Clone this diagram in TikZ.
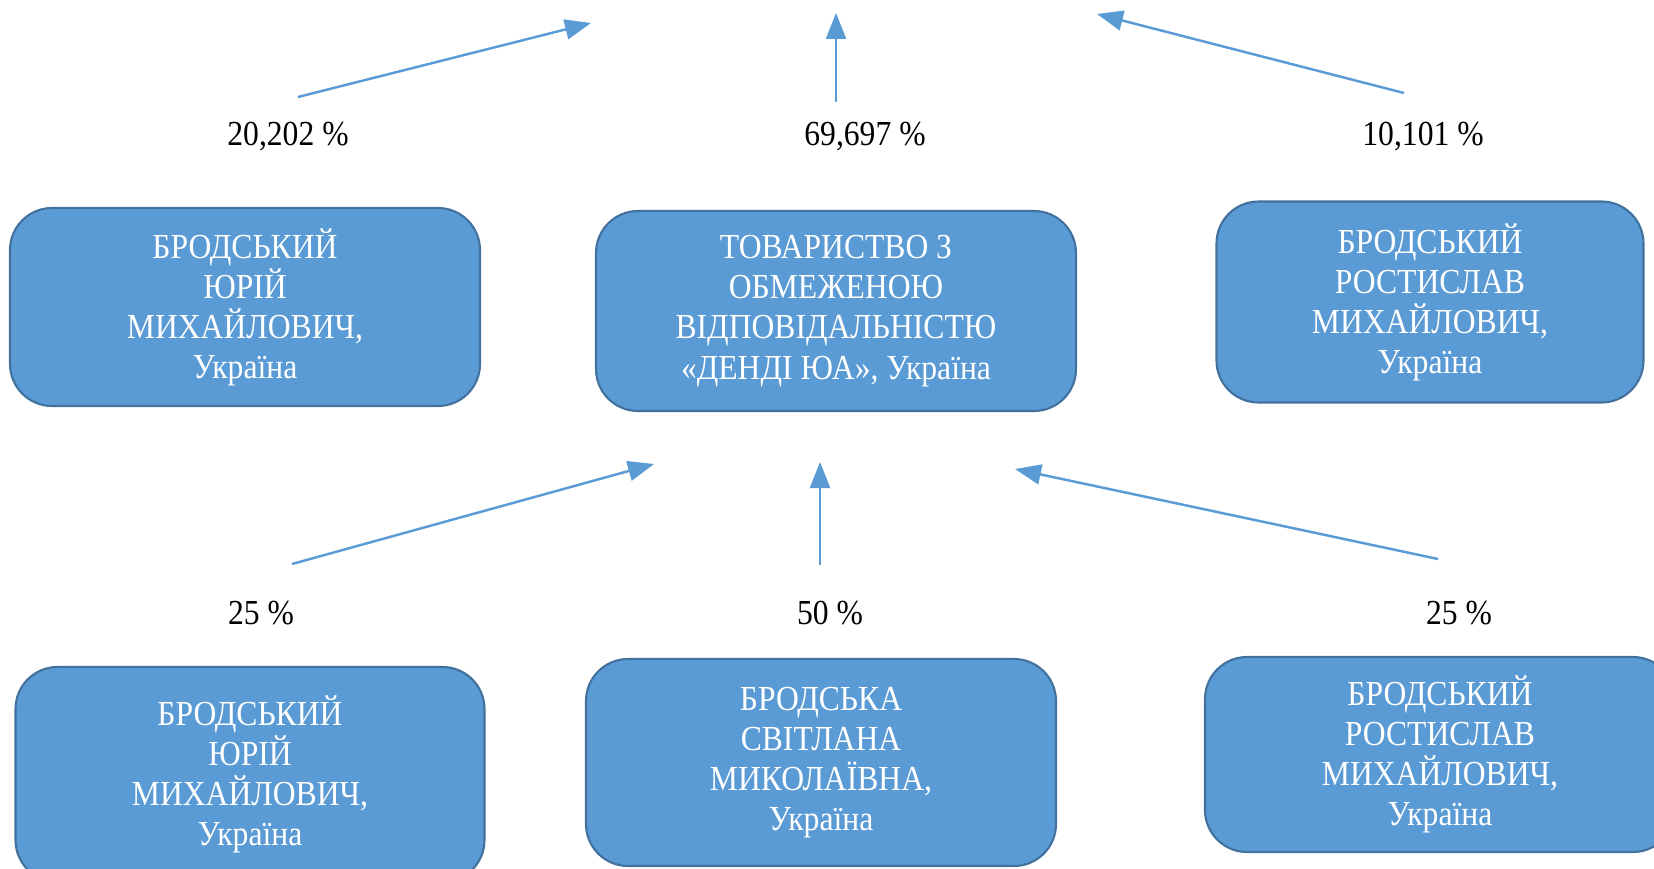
\documentclass[tikz,border=0pt]{standalone}
\usepackage{fontspec}
\setmainfont{Liberation Serif}[FakeStretch=0.9]
\usetikzlibrary{arrows.meta}

\definecolor{boxblue}{HTML}{5B9BD5}
\definecolor{boxedge}{HTML}{41719C}

\tikzset{every node/.style={font=\fontsize{10}{11.4}\selectfont}}
\tikzstyle{owner}=[draw=boxedge, line width=0.6pt, fill=boxblue, rounded corners=0.42cm,
    text=white, align=center, inner sep=0pt]
\tikzstyle{share}=[draw=boxblue, line width=0.7pt, -{Triangle[length=2.6mm,width=2mm]}]

\begin{document}
\begin{tikzpicture}
            \useasboundingbox (0,0) rectangle (16.54,8.68);
            % upper level
            \node [owner, minimum width=4.70cm, minimum height=1.98cm] (yurii) at (2.45,5.61)
                {БРОДСЬКИЙ\\ЮРІЙ\\МИХАЙЛОВИЧ,\\Україна};
            \node [owner, minimum width=4.80cm, minimum height=2.00cm] (dendi) at (8.36,5.57)
                {ТОВАРИСТВО З\\ОБМЕЖЕНОЮ\\ВІДПОВІДАЛЬНІСТЮ\\«ДЕНДІ ЮА», Україна};
            \node [owner, minimum width=4.27cm, minimum height=2.01cm] (rostyslav) at (14.30,5.66)
                {БРОДСЬКИЙ\\РОСТИСЛАВ\\МИХАЙЛОВИЧ,\\Україна};
            \node (pyurii) at (2.88,7.31) {20,202 \%};
            \node (pdendi) at (8.65,7.31) {69,697 \%};
            \node (prostyslav) at (14.23,7.31) {10,101 \%};
            \coordinate (yfrom) at (2.98,7.71);
            \coordinate (yto) at (5.91,8.45);
            \coordinate (dfrom) at (8.36,7.66);
            \coordinate (dto) at (8.36,8.55);
            \coordinate (rfrom) at (14.04,7.75);
            \coordinate (rto) at (10.97,8.54);
            \draw [share] (yfrom) -- (yto);
            \draw [share] (dfrom) -- (dto);
            \draw [share] (rfrom) -- (rto);
            % lower level
            \node [owner, minimum width=4.69cm, minimum height=2.15cm] (yurii2) at (2.50,0.935)
                {БРОДСЬКИЙ\\ЮРІЙ\\МИХАЙЛОВИЧ,\\Україна};
            \node [owner, minimum width=4.70cm, minimum height=2.07cm] (svitlana) at (8.21,1.055)
                {БРОДСЬКА\\СВІТЛАНА\\МИКОЛАЇВНА,\\Україна};
            \node [owner, minimum width=4.70cm, minimum height=1.95cm] (rostyslav2) at (14.40,1.135)
                {БРОДСЬКИЙ\\РОСТИСЛАВ\\МИХАЙЛОВИЧ,\\Україна};
            \node (pyurii2) at (2.61,2.55) {25 \%};
            \node (psvitlana) at (8.30,2.55) {50 \%};
            \node (prostyslav2) at (14.59,2.55) {25 \%};
            \coordinate (y2from) at (2.92,3.04);
            \coordinate (y2to) at (6.54,4.04);
            \coordinate (sfrom) at (8.20,3.03);
            \coordinate (sto) at (8.20,4.06);
            \coordinate (r2from) at (14.38,3.09);
            \coordinate (r2to) at (10.15,3.99);
            \draw [share] (y2from) -- (y2to);
            \draw [share] (sfrom) -- (sto);
            \draw [share] (r2from) -- (r2to);
\end{tikzpicture}
\end{document}
